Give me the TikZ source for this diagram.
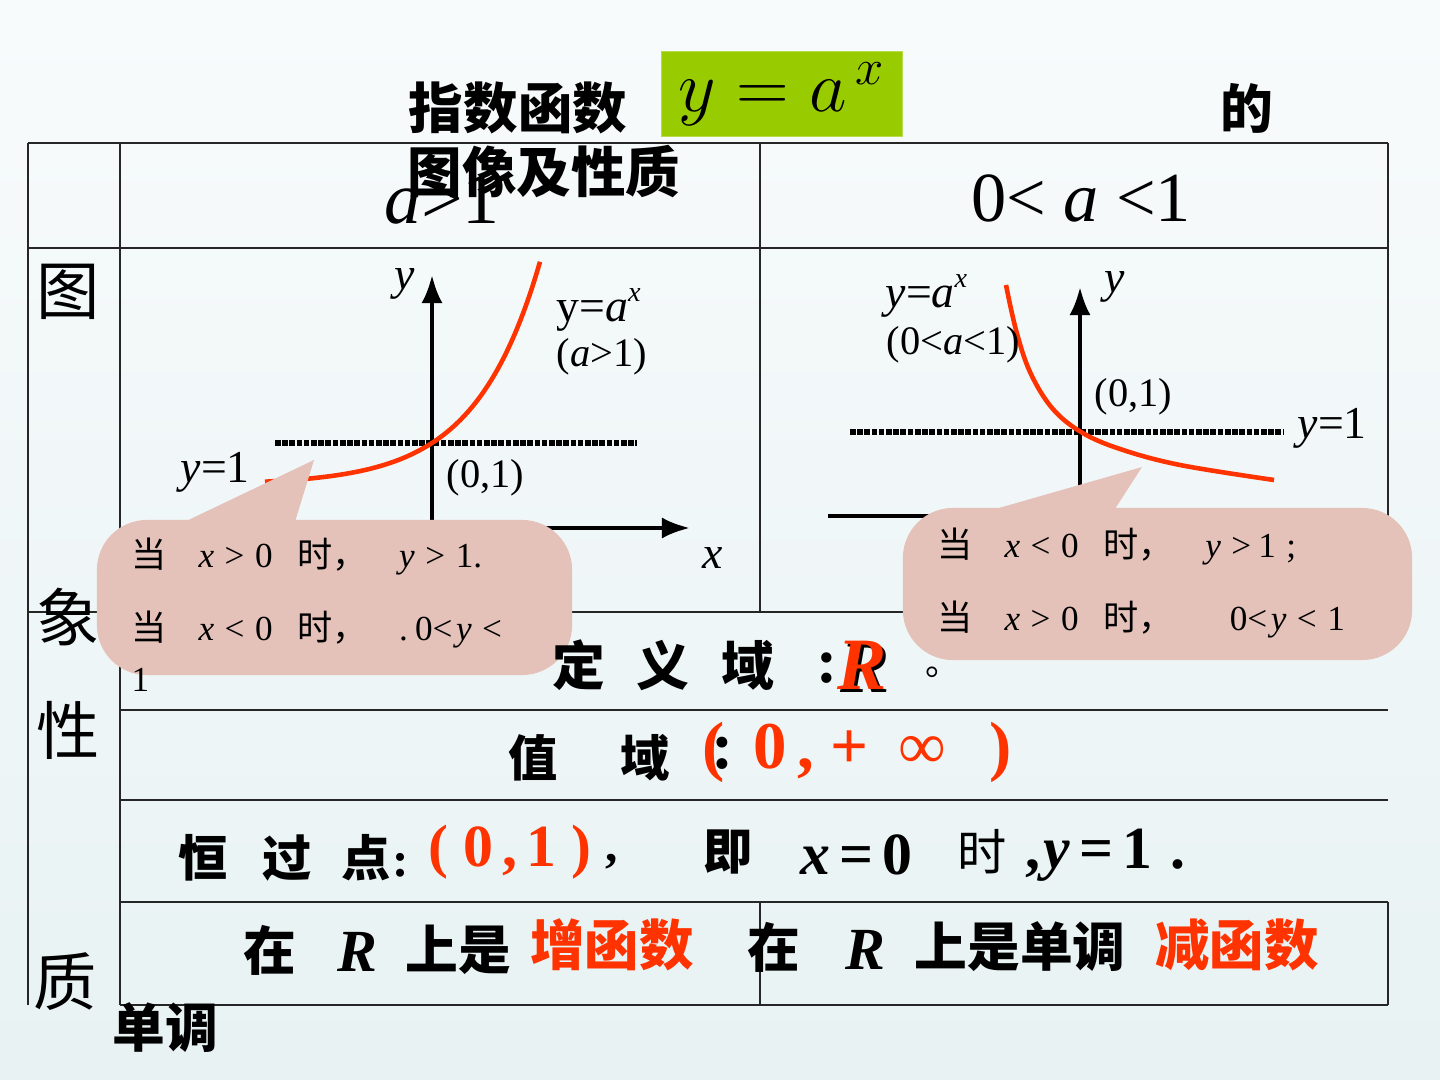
\documentclass[tikz,border=0pt]{standalone}
\usepackage{fontspec}
\setmainfont{Liberation Serif}
\newfontfamily\cjk{Noto Sans CJK SC}
\usepackage{xcolor}
\definecolor{TitleGreen}{HTML}{99CC00}
\definecolor{HotRed}{HTML}{FF3300}
\definecolor{BubbleBg}{HTML}{E4C1B9}
\definecolor{SlideTop}{HTML}{F8FBFC}
\definecolor{SlideBot}{HTML}{E8F2F3}
\usepackage{tikz}
\usetikzlibrary{arrows.meta,positioning}
\newcommand\fsz[1]{\fontsize{#1}{#1}\selectfont}

\begin{document}
\begin{tikzpicture}[x=0.01cm, y=-0.01cm, >=Latex, every node/.style={inner sep=0pt},
  grid/.style={line width=0.6pt, black!85},
  axis/.style={->, line width=1.2pt, >={Latex[length=8pt,width=6pt]}},
  curve/.style={HotRed, line width=1.3pt},
  dotline/.style={line width=1.5pt, dash pattern=on 1.6pt off 0.45pt},
  bubble/.style={fill=BubbleBg, rounded corners=0.5cm}]
  \shade[top color=SlideTop, bottom color=SlideBot] (0,0) rectangle (1440,1080);
  \useasboundingbox (0,0) rectangle (1440,1080);
  % table
  \draw[grid] (28,143) -- (1388,143);
  \draw[grid] (28,248) -- (1388,248);
  \draw[grid] (28,612) -- (1388,612);
  \draw[grid] (120,710) -- (1388,710);
  \draw[grid] (120,800) -- (1388,800);
  \draw[grid] (120,902) -- (1388,902);
  \draw[grid] (120,1005) -- (1388,1005);
  \draw[grid] (28,143) -- (28,1005);
  \draw[grid] (120,143) -- (120,1005);
  \draw[grid] (760,143) -- (760,612);
  \draw[grid] (760,902) -- (760,1005);
  \draw[grid] (1388,143) -- (1388,612);
  \draw[grid] (1388,902) -- (1388,1005);
  % header row
  \node (hdA) at (442,200) {\fsz{21pt}\textit{a}>1};
  \node (hdB) at (1081,198) {\fsz{20pt}0< \textit{a} <1};
  % title
  \node (ttlA) at (518,108) {\cjk\bfseries\fsz{15.5pt}指数函数};
  \node[fill=TitleGreen, draw=TitleGreen!70!white, minimum width=2.41cm, minimum height=0.85cm] (ttlF) at (782,94) {\fsz{20pt}$y=a^{\,x}$};
  \node (ttlB) at (1247,108) {\cjk\bfseries\fsz{15pt}的};
  \node (ttlC) at (544,172) {\cjk\bfseries\fsz{15.5pt}图像及性质};
  % row labels
  \node (rowA) at (68,292) {\cjk\fsz{18pt}图};
  \node (rowB) at (68,617) {\cjk\fsz{18pt}象};
  \node (rowC) at (68,730) {\cjk\fsz{18pt}性};
  \node (rowD) at (65,982) {\cjk\fsz{18pt}质};
  \node (mono) at (165,1028) {\cjk\bfseries\fsz{15pt}单调};
  % graph a>1
  \coordinate (oA) at (432,528);
  \coordinate (yA) at (432,275);
  \coordinate (xA0) at (300,528);
  \coordinate (xA) at (690,528);
  \draw[axis] (oA) -- (yA);
  \draw[axis] (xA0) -- (xA);
  \draw[dotline] (275,443) -- (637,443);
  \draw[curve] plot[domain=-167:108, samples=60, smooth] ({432+\x},{443-41.8*(exp(0.0155*\x)-1)});
  \node (gAy) at (405,284) {\fsz{13pt}\textit{y}};
  \node (gAx) at (713,558) {\fsz{13pt}\textit{x}};
  \node[anchor=west] (gAf) at (556,310) {\fsz{13pt}y=\textit{a}\raisebox{0.45em}{\fsz{8pt}\textit{x}}};
  \node[anchor=west] (gAc) at (556,357) {\fsz{11.5pt}(\textit{a}>1)};
  \node[anchor=west] (gAp) at (446,478) {\fsz{11.5pt}(0,1)};
  \node[anchor=west] (gAl) at (180,472) {\fsz{13pt}\textit{y}=1};
  % graph 0<a<1
  \coordinate (oB) at (1080,516);
  \coordinate (yB) at (1080,287);
  \coordinate (xB0) at (828,516);
  \coordinate (xB) at (1200,516);
  \draw[axis] (oB) -- (yB);
  \draw[line width=1.2pt] (xB0) -- (xB);
  \draw[dotline] (850,432) -- (1283,432);
  \draw[curve] plot[smooth, tension=0.6] coordinates {(1006,285) (1016,330) (1030,372) (1052,408) (1081,432) (1120,449) (1180,465) (1274,480)};
  \node (gBy) at (1115,287) {\fsz{13pt}\textit{y}};
  \node[anchor=west] (gBf) at (885,296) {\fsz{13pt}\textit{y}=\textit{a}\raisebox{0.45em}{\fsz{8pt}\textit{x}}};
  \node[anchor=west] (gBc) at (886,345) {\fsz{11.5pt}(0<\textit{a}<1)};
  \node[anchor=west] (gBp) at (1094,397) {\fsz{11.5pt}(0,1)};
  \node[anchor=west] (gBl) at (1297,428) {\fsz{13pt}\textit{y}=1};
  % callouts
  \node[bubble, minimum width=4.75cm, minimum height=1.55cm] (bubA) at (334.5,597.5) {};
  \fill[BubbleBg] (178,525) -- (314,460) -- (294,525) -- cycle;
  \node[anchor=west] (bubA1) at (131,557) {\fsz{10pt}{\cjk 当}\hspace{0.9em}\textit{x}\hspace{0.3em}>\hspace{0.3em}0\hspace{0.7em}{\cjk 时，}\hspace{0.9em}\textit{y}\hspace{0.3em}>\hspace{0.3em}1.};
  \node[anchor=west] (bubA2) at (131,630) {\fsz{10pt}{\cjk 当}\hspace{0.9em}\textit{x}\hspace{0.3em}<\hspace{0.3em}0\hspace{0.7em}{\cjk 时，}\hspace{0.9em}.\hspace{0.2em}0<\hspace{0.1em}\textit{y}\hspace{0.3em}<};
  \node[anchor=west] (bubA3) at (131,680) {\fsz{10pt}1};
  \node[bubble, minimum width=5.09cm, minimum height=1.52cm] (bubB) at (1157.5,584) {};
  \fill[BubbleBg] (985,512) -- (1142,467) -- (1113,512) -- cycle;
  \node[anchor=west] (bubB1) at (937,547) {\fsz{10pt}{\cjk 当}\hspace{0.9em}\textit{x}\hspace{0.3em}<\hspace{0.3em}0\hspace{0.7em}{\cjk 时，}\hspace{0.9em}\textit{y}\hspace{0.3em}>\hspace{0.2em}1\hspace{0.3em};};
  \node[anchor=west] (bubB2) at (937,620) {\fsz{10pt}{\cjk 当}\hspace{0.9em}\textit{x}\hspace{0.3em}>\hspace{0.3em}0\hspace{0.7em}{\cjk 时，}\hspace{1.6em}0<\hspace{0.1em}\textit{y}\hspace{0.3em}<\hspace{0.3em}1};
  % domain
  \node (domL) at (663,665) {\cjk\bfseries\fsz{15pt}定\hspace{0.6em}义\hspace{0.6em}域};
  \node (domC) at (827,668) {\bfseries\fsz{18pt}:};
  \node (domS) at (865,668) {\bfseries\itshape\fsz{21pt}R};
  \node (domR) at (862,665) {\bfseries\itshape\fsz{21pt}\color{HotRed}R};
  \node (domE) at (943,672) {\cjk\fsz{10pt}。};
  % range
  \node (rngA) at (533,758) {\cjk\bfseries\fsz{14pt}值};
  \node (rngB) at (645,758) {\cjk\bfseries\fsz{14pt}域};
  \node[anchor=west] (rngC) at (702,752) {\bfseries\fsz{19pt}\color{HotRed}(\hspace{-0.2em}{\color{black}:}\hspace{0.3em}0\hspace{0.15em},\hspace{0.25em}+\hspace{0.45em}{\mdseries ∞}\hspace{0.65em})};
  % fixed point
  \node[anchor=west] (ptA) at (178,858) {\cjk\bfseries\fsz{14pt}恒\hspace{0.7em}过\hspace{0.6em}点\hspace{0.05em}{\rmfamily :}};
  \node[anchor=west] (ptB) at (428,852) {\bfseries\fsz{17pt}\color{HotRed}(\hspace{0.25em}0\hspace{0.15em},\hspace{0.15em}1\hspace{0.25em})};
  \node (ptC) at (612,862) {\bfseries\fsz{14pt},};
  \node (ptD) at (728,852) {\cjk\bfseries\fsz{14pt}即};
  \node[anchor=west] (ptE) at (800,855) {\bfseries\fsz{17pt}\textit{x}\hspace{0.15em}=\hspace{0.15em}0};
  \node (ptF) at (982,852) {\cjk\fsz{14pt}时};
  \node[anchor=west] (ptG) at (1025,855) {\bfseries\fsz{17pt},\hspace{0.05em}\textit{y}\hspace{0.15em}=\hspace{0.15em}1\hspace{0.3em}.};
  % monotonicity
  \node (mnA) at (270,950) {\cjk\bfseries\fsz{15pt}在};
  \node (mnB) at (357,952) {\bfseries\itshape\fsz{17pt}R};
  \node (mnC) at (458,950) {\cjk\bfseries\fsz{15pt}上是};
  \node (mnD) at (612,945) {\cjk\bfseries\fsz{15.5pt}\color{HotRed}增函数};
  \node (mnE) at (774,947) {\cjk\bfseries\fsz{15pt}在};
  \node (mnF) at (865,950) {\bfseries\itshape\fsz{17pt}R};
  \node (mnG) at (1020,947) {\cjk\bfseries\fsz{15pt}上是单调};
  \node (mnH) at (1237,945) {\cjk\bfseries\fsz{15.5pt}\color{HotRed}减函数};
\end{tikzpicture}
\end{document}
